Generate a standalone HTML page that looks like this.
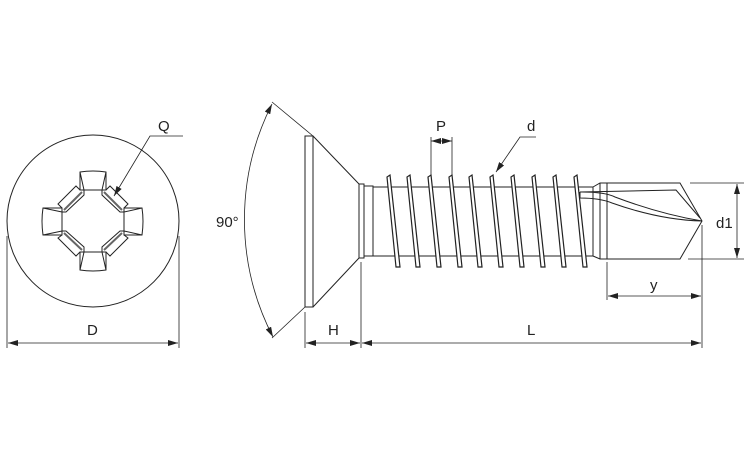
<!DOCTYPE html>
<html><head><meta charset="utf-8"><style>
html,body{margin:0;padding:0;background:#fff;}
svg{display:block;}
text{font-family:"Liberation Sans",sans-serif;font-size:15px;fill:#222;}
</style></head><body>
<svg width="750" height="450" viewBox="0 0 750 450" xmlns="http://www.w3.org/2000/svg">
<defs>
<marker id="a" viewBox="0 0 10 6" refX="10" refY="3" markerWidth="10" markerHeight="6" orient="auto-start-reverse" markerUnits="userSpaceOnUse"><path d="M0,0L10,3L0,6z" fill="#222"/></marker>
</defs>
<g fill="none" stroke="#222" stroke-width="1">
<!-- top view -->
<circle cx="93" cy="221" r="86"/>
<!-- arms -->
<path d="M80,172 Q93,170 106,172 L106,190 L80,190 Z M80,172 L84,190 M106,172 L102,190"/>
<path d="M80,270 Q93,272 106,270 L106,252 L80,252 Z M80,270 L84,252 M106,270 L102,252"/>
<path d="M43,208 Q41,221 43,235 L62,235 L62,208 Z M43,208 L62,212 M43,235 L62,231"/>
<path d="M142,208 Q144,221 142,235 L124,235 L124,208 Z M142,208 L124,212 M142,235 L124,231"/>
<!-- inner octagon -->
<path d="M84,190 L84,195 L66,212 L62,212 M102,190 L102,195 L120,212 L124,212 M84,252 L84,247 L66,231 L62,231 M102,252 L102,247 L120,231 L124,231"/>
<!-- bevel bars -->
<path d="M106,190 L110,186 L128,204 L124,208 M80,190 L76,186 L58,204 L62,208 M106,252 L110,256 L128,238 L124,235 M80,252 L76,256 L58,238 L62,235"/>
<path d="M104,192 L122,210 M82,192 L64,210 M104,250 L122,233 M82,250 L64,233" stroke="#666" stroke-width="2"/>
<path d="M183,136 L150,136 L114,196" stroke-width="0.8" marker-end="url(#a)"/>
<path d="M7,236 L7,348 M179,236 L179,348" stroke-width="0.8"/>
<line x1="8" y1="343" x2="178" y2="343" marker-start="url(#a)" marker-end="url(#a)" stroke-width="0.8"/>
<!-- head -->
<rect x="305" y="136" width="8" height="171"/>
<path d="M313,136 L359,184 M313,307 L359,258"/>
<rect x="359" y="184" width="5" height="74"/>
<rect x="364" y="186" width="9" height="70"/>
<path d="M373,187 L598,187 M373,256 L598,256"/>
<path d="M313,136 L272,102 M305,307 L272,338" stroke-width="0.8"/>
<path d="M272,104 A256,256 0 0 0 273,337" stroke-width="0.8" marker-start="url(#a)" marker-end="url(#a)"/>
<!-- threads -->
<g stroke-width="1.2" fill="#fff">
<path d="M390,175 L400,267 L396,267 L387,177 Z"/>
<path d="M410,175 L420,267 L416,267 L407,177 Z"/>
<path d="M431,175 L441,267 L437,267 L428,177 Z"/>
<path d="M452,175 L462,267 L458,267 L449,177 Z"/>
<path d="M472,175 L482,267 L478,267 L469,177 Z"/>
<path d="M493,175 L503,267 L499,267 L490,177 Z"/>
<path d="M514,175 L524,267 L520,267 L511,177 Z"/>
<path d="M535,175 L545,267 L541,267 L532,177 Z"/>
<path d="M556,175 L566,267 L562,267 L553,177 Z"/>
<path d="M577,175 L587,267 L583,267 L574,177 Z"/>
</g>
<!-- drill tip -->
<path d="M593,187 L600,183 L680,183 L702,221 L680,259 L600,259 L593,256 Z" fill="#fff"/>
<path d="M600,183 L600,259 M607,183 L607,259"/>
<path d="M580,192 L676,190 L700,218 M580,192 L580,198 M580,198 Q600,198 612,203 Q660,220 702,221 M582,192 Q605,192 615,197 Q660,214 702,221"/>
<!-- dims -->
<path d="M431,175 L431,137 M452,175 L452,137" stroke-width="0.8"/>
<line x1="431" y1="141" x2="452" y2="141" marker-start="url(#a)" marker-end="url(#a)" stroke-width="0.8"/>
<path d="M536,137 L520,137 L496,172" stroke-width="0.8" marker-end="url(#a)"/>
<path d="M305,312 L305,348 M361,262 L361,348 M702,225 L702,348 M607,262 L607,300" stroke-width="0.8"/>
<line x1="306" y1="343" x2="360" y2="343" marker-start="url(#a)" marker-end="url(#a)" stroke-width="0.8"/>
<line x1="362" y1="343" x2="701" y2="343" marker-start="url(#a)" marker-end="url(#a)" stroke-width="0.8"/>
<line x1="608" y1="296" x2="701" y2="296" marker-start="url(#a)" marker-end="url(#a)" stroke-width="0.8"/>
<path d="M690,183 L744,183 M688,259 L744,259" stroke-width="0.8"/>
<line x1="737" y1="184" x2="737" y2="258" marker-start="url(#a)" marker-end="url(#a)" stroke-width="0.8"/>
</g>
<text x="158" y="131">Q</text>
<text x="87" y="335">D</text>
<text x="216" y="227">90°</text>
<text x="328" y="335">H</text>
<text x="527" y="335">L</text>
<text x="436" y="131">P</text>
<text x="527" y="131">d</text>
<text x="650" y="290">y</text>
<text x="716" y="228">d1</text>
</svg>
</body></html>
